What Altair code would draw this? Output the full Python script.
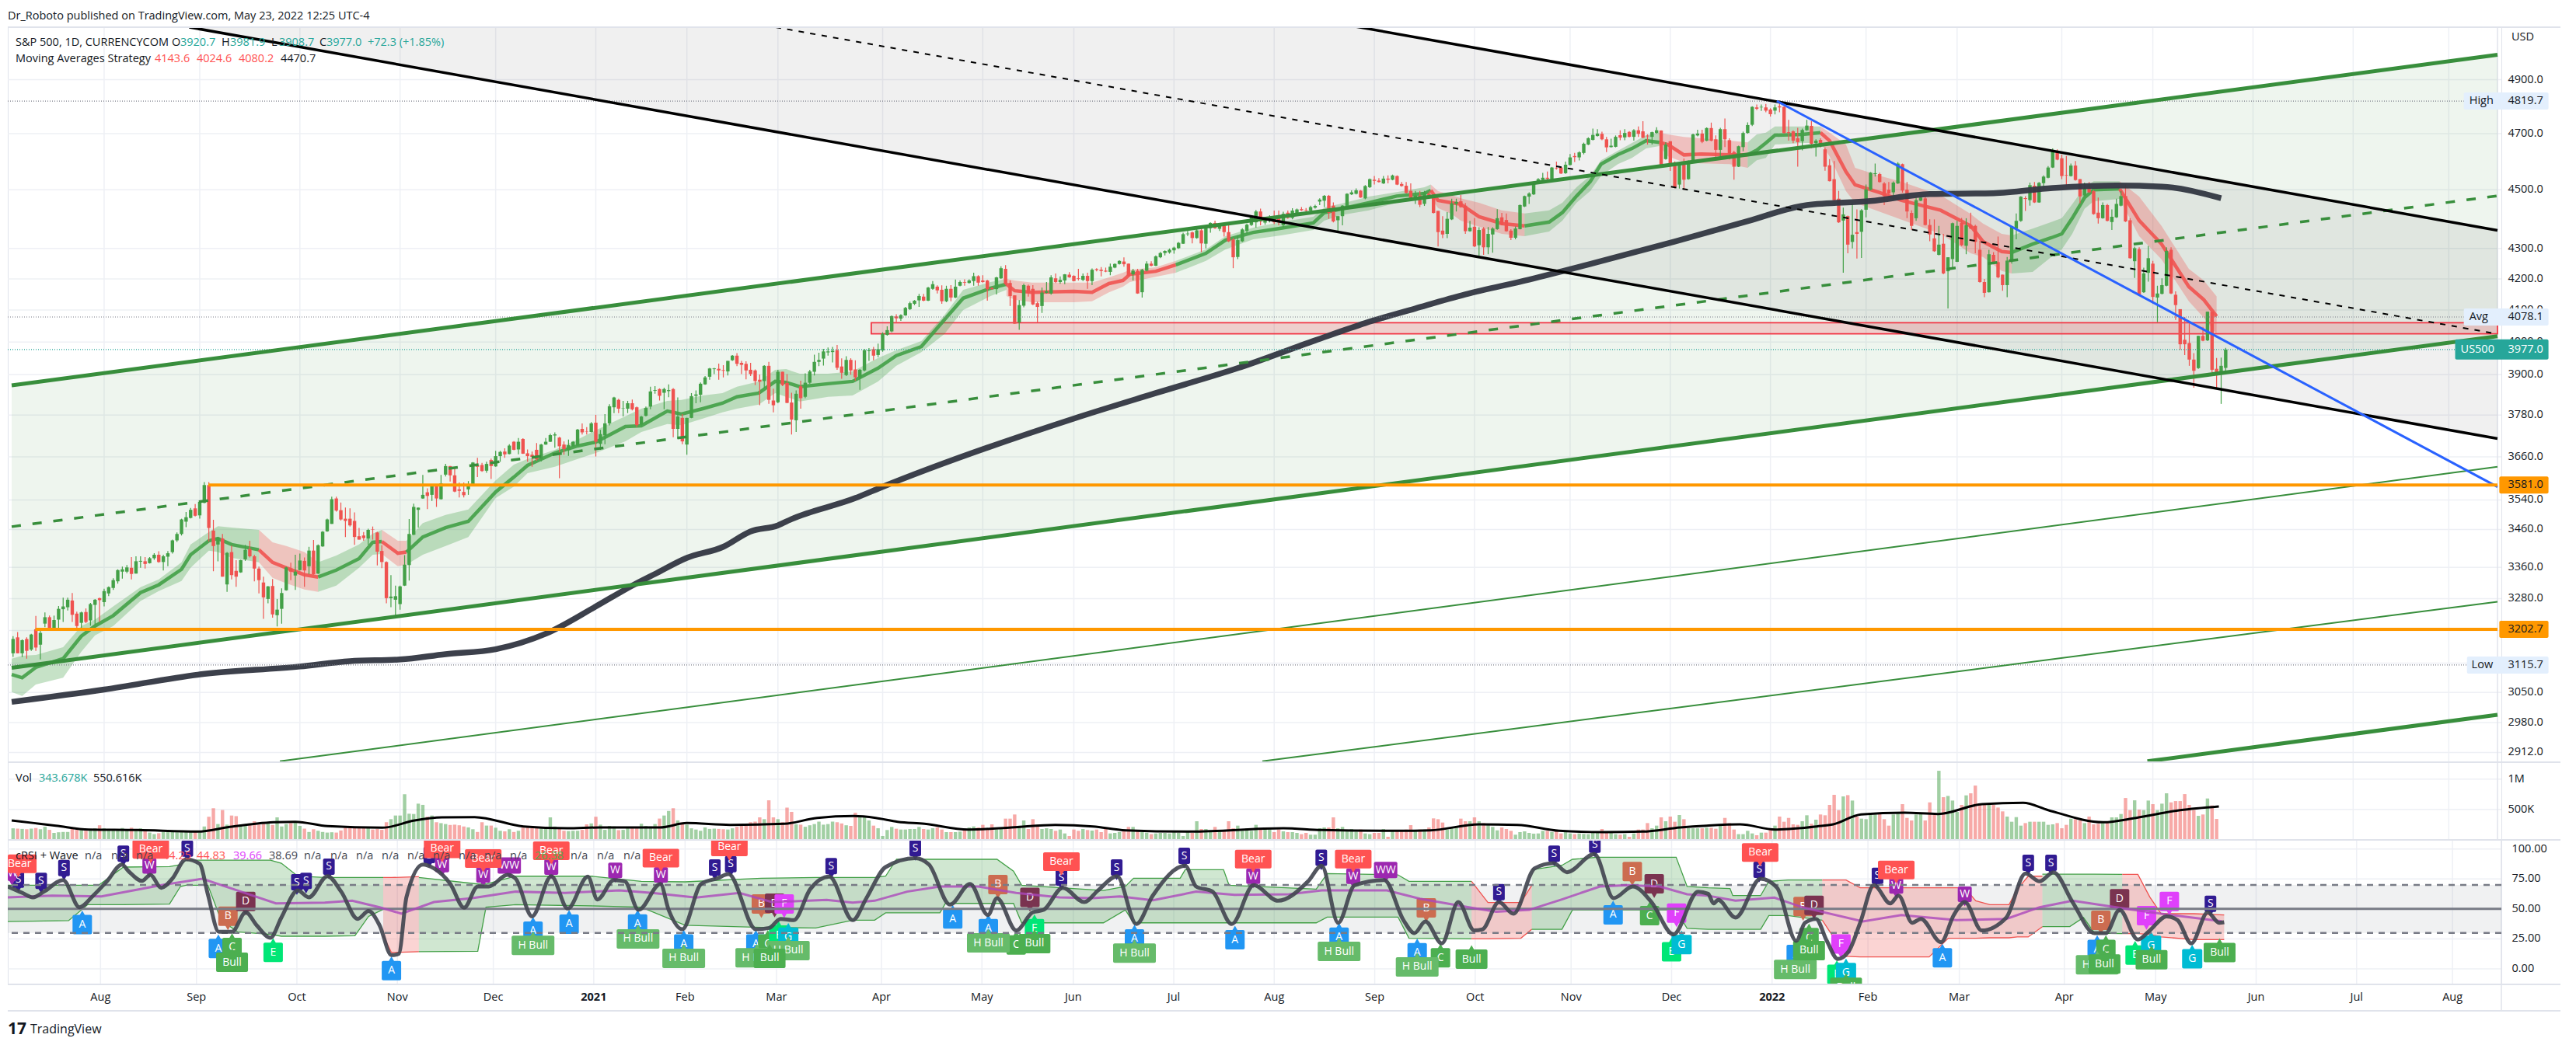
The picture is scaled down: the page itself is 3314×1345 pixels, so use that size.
import altair as alt
import pandas as pd

# ---------------------------------------------------------
# DATA: daily candles, one row per weekday (open, close, high, low)
# ---------------------------------------------------------
candles_2020a = [
    (3144,3179,3186,3135),(3183,3144,3196,3144),(3144,3176,3178,3135),(3179,3150,3183,3131),(3153,3190,3192,3150),
    (3203,3158,3236,3150),(3165,3194,3203,3129),(3217,3233,3245,3208),(3233,3204,3237,3204),(3204,3226,3237,3204),
    (3227,3254,3261,3202),(3253,3260,3282,3221),(3258,3277,3282,3250),(3275,3239,3294,3221),(3242,3211,3247,3202),
    (3219,3245,3247,3203),(3246,3221,3255,3218),(3225,3266,3269,3212),(3264,3277,3279,3215),(3281,3276,3282,3221),
    (3271,3299,3305,3260),(3293,3309,3311,3286),(3307,3327,3332,3302),(3324,3353,3355,3318),(3349,3355,3362,3331),
    (3349,3360,3366,3345),(3359,3343,3387,3329),(3344,3376,3389,3344),(3375,3377,3389,3359),(3376,3369,3387,3357),
    (3371,3384,3387,3370),(3384,3393,3397,3380),(3393,3374,3402,3372),(3374,3389,3393,3352),(3388,3397,3403,3363),
    (3400,3431,3433,3396),(3431,3448,3452,3427),(3448,3487,3489,3444),(3481,3493,3507,3466),(3491,3513,3518,3490),
    (3517,3497,3529,3495),(3498,3535,3535,3489),(3532,3581,3589,3531),(3581,3464,3589,3428),(3457,3416,3486,3350),
    (3420,3438,3440,3376),(3436,3336,3448,3336),(3316,3398,3400,3297),(3400,3340,3417,3329),(3351,3336,3379,3310),
    (3347,3379,3380,3346),(3381,3406,3419,3377),(3408,3389,3430,3386),(3389,3357,3393,3324),(3357,3327,3362,3293),
    (3321,3283,3336,3229),(3279,3311,3312,3268),(3312,3240,3330,3232),(3238,3252,3279,3210),(3254,3294,3306,3217),
    (3301,3360,3362,3300),(3357,3349,3372,3327),(3339,3349,3393,3302),(3353,3378,3396,3352),(3377,3352,3386,3310),
    (3363,3404,3414,3342),(3404,3342,3432,3341),(3344,3418,3420,3343),(3415,3454,3456,3414),(3455,3487,3489,3454),
    (3475,3542,3549,3475),(3544,3511,3549,3508),(3512,3487,3533,3484),(3489,3483,3519,3440),(3489,3471,3517,3468),
    (3483,3440,3506,3419),(3442,3433,3464,3433),(3444,3437,3453,3430),(3436,3459,3462,3419),(3460,3459,3468,3433),
    (3452,3401,3454,3365),(3403,3374,3418,3358),(3374,3281,3376,3268),(3281,3285,3340,3258),(3277,3286,3313,3237),
    (3266,3311,3313,3252),(3313,3367,3392,3312),(3366,3448,3488,3326),(3446,3521,3530,3445),(3513,3519,3519,3465),
    (3544,3554,3609,3543),(3561,3551,3572,3515),(3554,3580,3583,3537),(3578,3544,3581,3521),(3542,3586,3609,3541),
]
candles_2020b = [
    (3610,3634,3640,3605),(3634,3608,3634,3591),(3608,3563,3627,3561),(3569,3565,3588,3547),(3562,3553,3588,3547),
    (3569,3579,3592,3554),(3581,3644,3645,3580),(3637,3632,3657,3603),(3637,3620,3643,3618),(3621,3640,3646,3615),
    (3651,3634,3655,3598),(3633,3662,3677,3632),(3662,3674,3677,3646),(3675,3667,3684,3657),(3668,3692,3696,3667),
    (3703,3680,3705,3679),(3681,3703,3714,3667),(3711,3669,3713,3668),(3670,3662,3681,3646),(3666,3660,3675,3632),
    (3680,3653,3699,3649),(3653,3695,3697,3647),(3695,3703,3714,3694),(3703,3722,3726,3702),(3721,3724,3730,3686),
    (3715,3690,3717,3600),(3695,3682,3704,3666),(3679,3693,3709,3663),(3690,3703,3705,3689),(3692,3738,3740,3691),
    (3740,3730,3756,3724),(3733,3732,3745,3724),(3731,3756,3760,3730),(3758,3703,3781,3661),(3697,3725,3737,3680),
    (3721,3756,3783,3696),(3756,3806,3812,3750),(3803,3832,3834,3786),(3825,3799,3828,3786),(3799,3800,3822,3776),
    (3799,3815,3822,3786),(3815,3797,3826,3794),(3803,3751,3805,3745),(3752,3776,3778,3748),(3778,3801,3805,3776),
    (3805,3850,3864,3797),(3852,3854,3866,3843),(3857,3837,3859,3823),(3846,3857,3861,3797),(3851,3854,3871,3833),
    (3857,3740,3860,3716),(3740,3776,3832,3711),(3772,3704,3783,3696),(3695,3772,3772,3666),(3772,3836,3845,3771),
    (3837,3841,3853,3815),(3840,3873,3877,3818),(3871,3892,3896,3870),(3894,3919,3921,3885),(3917,3919,3921,3902),
    (3918,3913,3934,3885),(3914,3912,3929,3892),(3910,3942,3942,3898),(3944,3958,3960,3942),(3958,3933,3966,3926),
    (3936,3930,3942,3902),(3933,3913,3941,3886),(3915,3902,3936,3896),(3913,3881,3916,3869),(3885,3879,3901,3809),
    (3881,3927,3929,3861),(3927,3825,3939,3813),(3823,3809,3858,3788),(3818,3909,3915,3815),(3909,3869,3909,3866),
    (3875,3816,3902,3815),(3817,3767,3846,3724),(3765,3843,3853,3731),(3865,3830,3882,3799),(3834,3876,3904,3830),
    (3876,3910,3915,3873),(3909,3939,3961,3898),(3939,3945,3967,3926),(3949,3971,3979,3928),(3968,3971,3983,3958),
    (3969,3973,3985,3937),(3975,3921,3991,3915),(3925,3906,3950,3888),(3899,3945,3956,3896),(3945,3913,3950,3900),
    (3916,3892,3944,3882),(3892,3915,3917,3855),(3913,3975,3979,3910),(3972,3975,3981,3942),(3978,3958,3985,3944),
    (3960,3978,3995,3953),
]
candles_2021a = [
    (3974,4026,4030,3970),(4022,4037,4049,4020),(4033,4081,4083,4030),(4080,4074,4087,4062),(4073,4084,4087,4066),
    (4083,4107,4110,4082),(4103,4122,4127,4100),(4120,4130,4132,4116),(4131,4145,4152,4110),(4143,4130,4152,4128),
    (4130,4172,4174,4129),(4168,4183,4193,4165),(4175,4163,4179,4153),(4165,4128,4179,4120),(4128,4168,4178,4125),
    (4168,4140,4180,4128),(4140,4175,4198,4138),(4178,4190,4195,4176),(4190,4188,4199,4178),(4187,4195,4199,4185),
    (4193,4209,4220,4178),(4209,4188,4212,4178),(4195,4190,4212,4188),(4195,4167,4197,4130),(4170,4167,4174,4165),
    (4167,4205,4207,4150),(4202,4235,4241,4200),(4233,4183,4245,4180),(4187,4145,4195,4113),(4147,4057,4147,4057),
    (4061,4116,4132,4038),(4114,4180,4185,4109),(4178,4155,4182,4143),(4168,4118,4180,4116),(4122,4110,4127,4060),
    (4113,4156,4172,4091),(4155,4160,4190,4153),(4153,4205,4212,4149),(4202,4190,4218,4187),(4190,4197,4208,4184),
    (4195,4215,4216,4183),(4214,4205,4222,4204),(4210,4193,4212,4192),(4202,4200,4233,4195),(4197,4210,4218,4193),
    (4210,4193,4220,4168),(4193,4230,4234,4180),(4232,4229,4235,4225),(4230,4226,4239,4208),(4227,4224,4237,4222),
    (4223,4240,4250,4212),(4237,4249,4251,4235),(4249,4259,4261,4247),(4257,4248,4271,4240),(4250,4210,4250,4208),
    (4215,4227,4233,4195),(4227,4153,4233,4152),(4157,4230,4233,4140),(4227,4250,4258,4225),(4250,4243,4258,4241),
    (4243,4274,4277,4242),(4271,4285,4289,4268),(4285,4292,4294,4277),(4287,4296,4300,4283),(4294,4303,4306,4283),
    (4301,4319,4322,4299),(4316,4348,4353,4315),(4348,4350,4359,4342),(4354,4335,4357,4317),(4335,4361,4366,4333),
    (4361,4317,4368,4288),(4316,4372,4375,4300),(4368,4386,4388,4353),(4386,4368,4394,4366),(4366,4379,4384,4359),
    (4377,4355,4382,4340),(4355,4324,4384,4322),(4330,4271,4335,4235),(4272,4328,4344,4265),(4324,4364,4368,4322),
    (4359,4380,4384,4350),(4379,4407,4410,4376),(4388,4425,4430,4370),(4425,4391,4435,4378),(4387,4401,4405,4380),
    (4393,4406,4412,4388),(4406,4388,4428,4382),(4408,4388,4428,4378),(4378,4417,4424,4370),(4421,4403,4428,4400),
    (4403,4428,4436,4398),(4415,4432,4435,4412),(4433,4429,4440,4427),(4430,4428,4437,4425),(4428,4440,4445,4425),
    (4438,4444,4448,4435),
]
candles_2021b = [
    (4459,4466,4470,4447),(4462,4479,4482,4440),(4479,4420,4482,4400),(4445,4391,4456,4388),(4395,4409,4409,4355),
    (4409,4445,4447,4378),(4438,4486,4488,4436),(4484,4491,4498,4482),(4486,4498,4505,4484),(4497,4473,4499,4472),
    (4470,4513,4516,4467),(4509,4537,4539,4506),(4535,4531,4548,4518),(4532,4527,4541,4525),(4522,4539,4548,4520),
    (4539,4535,4550,4522),(4535,4550,4553,4533),(4548,4518,4550,4516),(4520,4513,4527,4511),(4514,4489,4527,4487),
    (4496,4463,4522,4461),(4466,4480,4496,4451),(4480,4448,4496,4440),(4451,4491,4496,4444),(4487,4471,4493,4469),
    (4476,4420,4478,4418),(4427,4355,4427,4307),(4360,4347,4409,4335),(4349,4400,4423,4335),(4398,4453,4469,4396),
    (4451,4458,4469,4425),(4460,4440,4482,4438),(4445,4358,4454,4349),(4358,4370,4393,4356),(4373,4307,4402,4305),
    (4311,4362,4371,4275),(4367,4304,4372,4279),(4304,4349,4372,4281),(4347,4367,4371,4286),(4365,4402,4433,4363),
    (4405,4380,4420,4378),(4396,4358,4418,4356),(4360,4336,4365,4328),(4336,4367,4374,4331),(4365,4447,4449,4364),
    (4442,4478,4480,4440),(4476,4487,4491,4451),(4484,4525,4529,4482),(4522,4537,4541,4520),(4534,4542,4559,4522),
    (4542,4538,4564,4527),(4537,4578,4580,4535),(4576,4574,4599,4571),(4578,4557,4580,4555),(4558,4588,4599,4556),
    (4587,4614,4626,4585),(4619,4615,4630,4598),(4614,4632,4636,4603),(4630,4663,4667,4625),(4660,4683,4686,4658),
    (4677,4695,4718,4675),(4691,4700,4716,4689),(4699,4679,4707,4676),(4679,4650,4688,4633),(4651,4656,4681,4649),
    (4652,4688,4693,4650),(4694,4685,4712,4676),(4686,4702,4716,4676),(4706,4688,4709,4686),(4688,4712,4716,4674),
    (4712,4699,4726,4688),(4708,4685,4745,4683),(4692,4690,4697,4660),(4688,4705,4707,4660),(4702,4712,4723,4700),
    (4711,4585,4712,4583),(4608,4660,4669,4606),(4672,4590,4672,4566),(4596,4509,4600,4505),(4518,4590,4596,4504),
    (4592,4535,4610,4500),(4537,4601,4603,4535),(4599,4697,4700,4597),(4693,4700,4714,4690),(4700,4670,4714,4665),
    (4674,4720,4722,4672),(4720,4674,4740,4672),(4679,4641,4693,4610),(4641,4716,4721,4617),(4716,4679,4755,4651),
    (4676,4628,4683,4607),(4633,4581,4638,4535),(4581,4654,4656,4580),(4651,4702,4707,4636),(4702,4731,4741,4700),
]
candles_2022 = [
    (4732,4798,4800,4727),(4796,4791,4807,4786),(4796,4798,4807,4783),(4796,4784,4809,4778),(4788,4771,4793,4762),
    (4784,4796,4807,4770),(4800,4796,4822,4778),(4798,4702,4800,4700),(4705,4702,4750,4674),(4708,4674,4712,4665),
    (4683,4669,4721,4581),(4672,4713,4718,4639),(4712,4729,4750,4710),(4728,4663,4745,4647),(4665,4674,4679,4617),
    (4677,4659,4683,4650),(4643,4581,4650,4567),(4586,4530,4608,4529),(4537,4464,4601,4462),(4469,4388,4496,4386),
    (4394,4415,4438,4220),(4409,4313,4411,4284),(4322,4346,4456,4300),(4355,4349,4432,4267),(4356,4429,4433,4269),
    (4431,4501,4518,4405),(4500,4560,4562,4498),(4555,4558,4592,4546),(4555,4527,4560,4525),(4522,4478,4527,4447),
    (4500,4487,4527,4476),(4491,4525,4529,4464),(4522,4592,4597,4520),(4590,4497,4592,4490),(4500,4425,4527,4402),
    (4420,4376,4429,4362),(4402,4464,4473,4393),(4462,4473,4478,4460),(4470,4379,4478,4377),(4379,4347,4398,4324),
    (4334,4291,4398,4289),(4279,4313,4376,4277),(4316,4218,4349,4215),(4225,4271,4271,4105),(4265,4385,4387,4232),
    (4256,4376,4393,4255),(4386,4311,4403,4308),(4309,4378,4402,4281),(4376,4367,4421,4365),(4376,4322,4380,4284),
    (4296,4190,4326,4188),(4190,4155,4200,4141),(4157,4281,4296,4156),(4279,4255,4288,4253),(4255,4205,4340,4202),
    (4214,4180,4214,4162),(4180,4260,4272,4141),(4258,4374,4376,4250),(4367,4393,4418,4331),(4393,4476,4478,4390),
    (4471,4468,4478,4427),(4464,4516,4525,4445),(4514,4456,4527,4454),(4456,4524,4527,4455),(4523,4546,4550,4504),
    (4542,4578,4583,4540),(4578,4638,4646,4576),(4635,4606,4643,4604),(4611,4548,4624,4537),(4552,4550,4619,4511),
    (4548,4585,4592,4546),(4585,4534,4601,4532),(4537,4477,4537,4453),(4480,4505,4525,4478),(4504,4491,4527,4489),
    (4495,4416,4499,4414),(4421,4402,4473,4384),(4402,4447,4456,4400),(4447,4393,4451,4391),(4389,4407,4432,4362),
    (4405,4451,4469,4403),(4445,4478,4496,4443),(4478,4391,4518,4389),(4395,4268,4402,4266),(4258,4301,4306,4203),
    (4298,4147,4304,4145),(4157,4218,4237,4155),(4220,4268,4309,4191),(4250,4142,4259,4120),(4140,4153,4178,4062),
    (4152,4180,4202,4150),(4178,4292,4304,4176),(4296,4153,4304,4151),(4149,4116,4160,4069),(4103,3993,4103,3976),
    (4007,3993,4078,3960),(3997,3946,4058,3927),(3946,3912,3966,3861),(3920,4019,4019,3918),(4019,4004,4047,4002),
    (4005,4095,4095,4003),(4095,3915,4095,3907),(3918,3902,3951,3861),(3902,3927,3952,3813),(3920.7,3977,3981.9,3908.7),
]

volume_a = [
    190,185,180,175,185,195,175,215,165,115,125,130,130,180,165,175,150,170,190,240,
    190,180,175,165,195,175,200,170,190,160,120,95,110,130,130,135,125,140,135,125,150,
    120,220,380,520,260,490,250,400,390,255,240,270,305,250,265,290,245,370,220,260,275,300,
    230,185,130,175,150,130,120,125,120,155,210,215,210,210,200,215,170,180,165,290,340,400,
    400,750,430,425,595,575,380,400,290,275,260,245,250,240,220,205,175,130,290,235,235,
    200,150,140,175,130,150,200,205,200,205,200,200,370,220,190,150,145,150,150,165,255,270,
    380,250,165,230,220,160,165,195,200,190,265,230,220,260,350,400,475,520,320,285,
    250,190,170,150,205,180,185,180,175,170,190,215,240,260,290,
    300,370,340,650,370,340,290,530,460,255,250,215,240,260,300,250,260,300,290,270,240,230,
]
volume_b = [
    446,391,383,319,234,191,64,162,213,183,170,170,179,179,213,179,170,191,204,170,128,128,128,136,179,204,221,204,247,191,
    255,170,191,349,349,417,234,319,179,340,247,179,191,179,149,170,106,64,170,149,179,162,153,170,128,191,106,115,128,170,
    213,213,162,128,119,94,106,115,115,106,136,119,64,128,115,306,179,179,128,213,149,157,306,191,234,149,191,149,247,179,
    204,170,128,170,140,128,128,115,94,115,85,85,191,204,204,370,191,213,149,179,136,170,106,94,115,115,179,51,149,162,
    162,170,242,162,170,170,204,353,340,285,170,191,200,349,306,306,370,306,276,247,213,157,204,179,149,85,128,140,115,102,
    106,149,149,128,145,106,128,106,94,106,98,94,128,115,179,128,115,94,85,94,51,106,170,170,276,191,234,370,306,383,
    298,408,340,191,191,191,191,
]
volume_c = [
    200,200,183,234,361,276,170,94,94,149,106,77,119,119,179,234,383,298,361,255,247,306,404,264,332,417,404,574,740,489,
    714,735,646,383,349,340,417,417,425,340,234,417,446,587,361,319,417,446,319,616,417,1135,701,722,646,459,574,731,765,892,
    574,574,574,574,531,468,383,298,374,234,276,298,298,298,298,247,255,276,191,247,349,340,319,276,383,255,264,276,276,370,
    370,425,688,489,650,497,489,646,587,489,595,765,616,637,637,752,574,489,395,417,680,565,344,
]
volume_ma = [
    (-0.3,319),(4.6,276),(9.4,234),(16.6,170),(27.3,162),(40.5,136),(47.6,213),(57.2,289),(62,298),(69.1,225),(81.1,200),
    (88.2,319),(94.2,370),(101.4,374),(112.1,221),(121.7,191),(128.8,204),(142,204),(148,276),(157.5,247),(169.4,264),
    (176.6,361),(184.7,391),(189.5,361),(194.3,298),(200.2,264),(209.8,170),(219.3,204),(228.9,247),(237.2,221),(244.4,157),
    (258.7,136),(279,191),(287.4,162),(304.1,149),(311.3,157),(322,255),(330.4,247),(339.6,149),(349.5,128),(357.9,136),
    (366.2,204),(372,234),(379.3,255),(387.1,170),(396.2,221),(399.8,255),(405.9,417),(415.5,446),(422.8,425),(432.5,587),
    (441.5,608),(447,489),(459.1,289),(466.3,361),(476,489),(484.5,550),
]

ma200 = [
    (-0.3,3028),(20,3057),(41,3093),(63,3112),(74,3125),(85,3129),(95,3142),(106,3154),(117,3192),(128,3260),(136,3313),
    (141,3343),(148,3385),(156,3414),(162,3455),(168,3471),(171,3488),(185,3545),(190,3571),(233,3770),(251,3845),(269,3920),
    (286,4005),(297,4059),(308,4105),(319,4150),(333,4198),(347,4251),(365,4323),(381,4392),(394,4447),(408,4461),(421,4485),
    (435,4488),(448,4506),(462,4515),(472,4511),(485,4470.7),
]

# moving average ribbon: bar, upper, middle, lower
ribbon_green_1 = [
    (-0.3,3131,3093,3051),(2,3138,3085,3042),(5,3140,3110,3069),(11,3159,3131,3085),(15,3211,3186,3148),(18,3227,3211,3188),
    (22,3260,3237,3211),(28,3309,3295,3274),(32,3329,3315,3299),(37,3373,3355,3325),(39,3420,3393,3359),(43,3453,3430,3404),
    (45,3469,3436,3400),(48,3465,3420,3385),(54,3459,3406,3373),
]
ribbon_red_1 = [(54,3459,3406,3373),(57,3426,3373,3333),(60,3416,3359,3319),(64,3400,3341,3303),(67,3373,3335,3297)]
ribbon_green_2 = [(67,3373,3335,3297),(71,3391,3353,3313),(76,3420,3383,3359),(79,3449,3426,3393),(81,3459,3428,3395)]
ribbon_red_2 = [(81,3459,3428,3395),(84.5,3430,3397,3363),(86.4,3430,3400,3367)]
ribbon_green_3 = [
    (86.4,3430,3400,3367),(90,3477,3440,3393),(95,3499,3465,3416),(100,3514,3482,3440),(106,3594,3562,3545),(110,3638,3603,3577),
    (113,3654,3636,3614),(119,3680,3671,3632),(124,3709,3691,3654),(128,3736,3702,3671),(134.5,3777,3747,3704),(138,3799,3749,3731),
    (143.7,3822,3792,3754),(146.8,3825,3783,3751),(151.5,3838,3799,3770),(155.8,3845,3815,3788),(159,3864,3834,3799),
    (163.8,3880,3845,3811),(167.4,3915,3880,3845),(169.8,3917,3877,3834),(172.8,3903,3864,3820),(179,3903,3873,3834),
    (184.4,3910,3880,3838),(190,3951,3920,3880),(194,3975,3958,3927),(199.5,4003,3986,3969),(204.6,4085,4070,4025),
    (208.7,4165,4138,4100),(214.7,4190,4170,4145),(218.2,4200,4183,4165),
]
ribbon_red_3 = [
    (218.2,4200,4183,4145),(220,4195,4162,4133),(223.8,4188,4157,4125),(233,4188,4160,4125),(237,4188,4157,4128),
    (240.7,4205,4185,4157),(243.8,4220,4195,4175),(245.3,4230,4215,4190),(251,4238,4225,4207),(255.4,4259,4246,4220),
]
ribbon_green_4 = [
    (255.4,4259,4246,4220),(262,4297,4284,4259),(266.3,4341,4328,4297),(272.4,4370,4354,4331),(278.5,4389,4368,4344),
    (285.6,4407,4386,4362),(288,4439,4421,4394),(291.8,4452,4434,4413),(297.8,4476,4455,4429),(303.9,4492,4478,4455),
    (310,4509,4487,4468),(311.4,4518,4498,4473),
]
ribbon_red_4 = [
    (311.4,4518,4498,4473),(313,4495,4463,4437),(316,4481,4455,4416),(318,4470,4450,4394),(322,4455,4407,4373),
    (327,4429,4384,4349),(332,4418,4376,4341),
]
ribbon_green_5 = [
    (332,4418,4376,4341),(337.4,4429,4389,4357),(340.3,4455,4421,4394),(343.4,4509,4478,4455),(346.4,4549,4528,4495),
    (348.8,4604,4590,4549),(352.5,4638,4624,4590),(355.6,4666,4646,4612),(358.7,4694,4674,4646),(361.6,4703,4668,4655),
]
ribbon_red_5 = [(361.6,4703,4668,4655),(363.5,4697,4660,4618),(367,4688,4623,4596),(370.8,4683,4626,4593),(377,4674,4623,4590),(381,4668,4623,4577)]
ribbon_green_6 = [(381,4668,4623,4577),(383,4697,4640,4604),(385,4703,4666,4612),(387,4726,4694,4660),(393,4726,4697,4666),(397,4726,4703,4666)]
ribbon_red_6 = [
    (397,4726,4703,4666),(399,4703,4674,4618),(402.6,4660,4563,4495),(404.6,4577,4517,4455),(410,4549,4490,4424),
    (414.8,4528,4463,4397),(423.4,4481,4429,4349),(430,4416,4376,4284),(432.7,4384,4323,4272),(436.8,4349,4290,4226),
    (439,4344,4287,4218),
]
ribbon_green_7 = [
    (439,4344,4287,4218),(443.6,4367,4315,4223),(447.7,4389,4336,4272),(450,4402,4349,4297),(452.3,4450,4402,4349),
    (455,4509,4473,4434),(457,4530,4500,4460),(462.7,4530,4503,4468),
]
ribbon_red_7 = [
    (462.7,4530,4503,4468),(467,4476,4394,4341),(471.9,4376,4315,4264),(477.9,4233,4175,4128),(481.2,4195,4133,4076),
    (484,4143.6,4080.2,4024.6),
]

rsi_line = [
    (-0.3,68.7),(2.9,63.3),(5.2,59.6),(7.6,64.4),(11.8,74.1),(15.4,51.4),(18.4,61.1),(21.4,73),(24.7,87),(26.1,81.6),(29.1,73.4),
    (30.9,78.4),(33.3,67.6),(35.7,75.2),(38.7,91.4),(41.7,87.7),(43.5,62.2),(45.9,30.9),(48.8,30.9),(51.8,47.1),(54.2,36.3),
    (57.2,25.9),(59.6,42.8),(63.2,65.4),(65.6,59.6),(69.7,77.3),(72.7,64.4),(76.3,41.7),(78.7,48.2),(81.1,36.3),(83.7,11.4),
    (85.3,12.5),(87,60),(90.6,87),(93,83.8),(96.6,70.8),(99.6,51),(102.6,68.7),(105,68.7),(109.1,78.4),(110.9,75.2),(114.5,43.8),
    (118.7,77.3),(122.3,50.3),(126.7,76.9),(128.8,57.9),(132.4,74.1),(134.8,73),(137.8,49.2),(142.6,70.8),(144.4,49.2),(147.4,33),
    (151.5,70.8),(155.1,75.6),(157.5,79),(163.5,33),(166.4,34.1),(168.9,41.7),(171.8,40.6),(175.4,66.5),(179.6,76.9),(184.7,40.6),
    (187.7,59),(191.9,84.9),(198.4,92.4),(201.4,87),(206,53.6),(210.4,70.8),(214.3,44.9),(216.3,59),(220.5,32),(224.1,47.1),
    (226.5,49.2),(230.7,67.6),(235.4,55.7),(238.4,65.4),(242.6,77.3),(246.8,37.4),(250.4,61.1),(257.5,86),(259.9,68.7),(263.5,64.4),
    (267.7,37.4),(272.5,69.8),(277.8,56.8),(284.4,73),(287.4,86),(291,38.4),(294.6,69.8),(301.1,74.1),(305.3,40.6),(307.7,29.8),
    (310.1,39.5),(313.7,21.2),(317.3,55.7),(320.8,32),(322.6,33),(326.2,55.7),(329.4,46),(334,83.8),(338.2,88.1),(341.1,80.6),
    (347.1,95.7),(351.3,59),(355.5,68.7),(359.6,55.7),(364.4,28.7),(369.8,64.4),(372,62.6),(373.2,54.6),(374.2,57.5),(378,42.8),
    (383.5,75.2),(387.1,67.6),(391.3,23.3),(393.2,38.4),(395.6,41.7),(398,23.3),(400.4,8.2),(402.8,14.7),(405.3,38.4),(408.3,69.8),
    (411.9,54.6),(413.7,61.1),(416.7,38.4),(418.6,41.7),(423,22.2),(425.8,44.9),(428.2,55.7),(431.9,32),(437.3,42.8),(441.5,79.5),
    (444.6,73),(447.6,80.6),(451.8,55.7),(456.6,29.8),(459.1,29.8),(462.1,49.2),(466.1,24.4),(468.7,32),(472.4,43.8),(474.8,40.6),
    (477.8,21.2),(481.4,47.1),(483.9,38.4),(485,38.9),
]
rsi_average = [
    (-0.3,59.6),(9.4,61.1),(20.2,60.5),(33.3,69.8),(42.3,75.2),(50,65.4),(58.4,54.6),(69.1,55.3),(75.1,56.8),(81.1,51.4),(85.9,46),
    (93,55.7),(101.4,59),(110.9,64.4),(121.7,63.3),(133.6,65.4),(140.8,63.3),(150.4,59.4),(159.9,63.3),(167,55.7),(179,57.5),
    (184.7,55.3),(189.5,56.8),(196.6,64.4),(203.8,68.7),(212.2,68.7),(220.5,63.3),(230,59.6),(237.2,59),(243.2,60.5),(250.4,57.2),
    (259.9,64.4),(268.3,61.8),(280.2,62.2),(287.4,65.4),(301.7,65.4),(308.9,58.5),(319.6,51.4),(325.6,47.7),(332.8,49.2),(340,57.9),
    (348.3,68.7),(354.3,69.8),(361.4,68.7),(367.4,62.2),(372,61),(378,56.8),(386.5,59.4),(392.6,51.4),(405.9,39.5),(414.3,44.9),
    (426.4,40.6),(437.3,41.7),(444.6,51.4),(451.8,56.8),(463.9,49.9),(472.4,45.4),(484.5,39.7),
]
# wave band: bar, upper, lower
wave_green_1 = [
    (-0.3,69.8,39.5),(13,69.8,40.2),(17.2,69.8,53.6),(19.6,69.8,53.6),(25,84.9,53.6),(35.1,85.3,54),(37.5,87,68.7),(38.7,90.7,69.8),
    (43.5,90.7,69.8),(46.4,90.7,40.6),(50,90.7,30.9),(57.2,90.7,28.7),(59.6,88.1,27.2),(63.2,77.3,27.2),(69.1,76.2,27.2),
    (75.7,76.2,27.6),(78.7,76.2,43.8),(81.9,76.2,49.7),
]
wave_red_1 = [(81.9,76.2,27.6),(83.7,76.2,13.6),(89.7,76.9,14.3)]
wave_green_2 = [
    (89.7,76.2,14.3),(102.6,70.8,14.7),(104.4,70.8,51.4),(110.9,77.3,53.6),(127.6,77.3,52.5),(138.4,73,51.4),(148,72.6,36.3),
    (164.7,75.6,34.6),(176.6,76.2,34.1),(184.7,76.2,40.6),(189.5,76.2,40.6),(191.9,77.3,46.7),(194.3,91.4,46.7),(203.8,91.4,46.7),
    (205,91.4,54.6),(216.3,91.4,54.6),(219.9,81.6,54.6),(221.7,69.8,38.4),(239.6,65.4,38.4),(244.4,68.7,49.2),(246.2,75.6,38.4),
    (256.4,75.6,38.4),(257.5,82.7,38.4),(265.9,82.7,38.4),(267.1,69.8,38.4),(286.2,66.5,38.4),(288.6,79.5,43.2),(304.1,78.4,43.2),
    (306.5,73,25.5),(320.2,73,25),
]
wave_red_2 = [(320.2,73,25),(323.8,55.3,25),(331,55.3,25.5),(333.4,69.8,33)]
wave_green_3 = [
    (333.4,82.7,33),(340,86.4,33),(342.3,91.4,49.2),(347.7,93.1,49.2),(365,93.1,49.2),(367.4,68.7,33.7),(372,67.6,33),
    (376.8,67,33),(377.4,61.1,33),(383.5,61.1,33),(385.3,73,44.5),(389.5,74.1,44.5),(397,74.1,40.6),
]
wave_red_3 = [
    (397,74.1,40.6),(402.2,74.1,10.4),(405.3,67.6,9.9),(420.4,67.6,9.9),(424.6,67.6,25.5),(428.2,67.6,25.5),(430.6,56.8,25.5),
    (433.7,53.6,25.9),(437.9,53.6,25.9),(439.7,66.5,26.6),(442.1,77.3,26.6),(445.2,77.3,35.2),
]
wave_green_4 = [(445.2,79,35.2),(451.2,79,35.2),(454.2,79,42.8),(456.6,79,29.8),(462.7,78.8,29.4)]
wave_red_4 = [(462.7,78.8,29.4),(466.1,78.8,29.4),(468.7,60,28.7),(471.2,46,26.6),(478.4,46,24.4),(485,44.9,24.4)]

# signal tags of the oscillator: bar, value of the tip
sig_s = [
    (2,64.4),(7,63.3),(12,74.1),(25,86),(39,90.3),(63,62.2),(65,63.3),(70,75.2),(92,84.9),(154.5,74.5),(158,77.3),(180,75.6),
    (198.4,90.7),(230.4,66.1),(242.5,74.5),(257.3,84.2),(287.3,82.7),(326.2,54),(338.3,86),(347.2,93.5),(383.2,72.6),(409.1,67.6),
    (442.1,78.4),(447.1,78.4),(482,44.3),
]
sig_w = [
    (0,70),(30.7,76.2),(94.8,77.3),(103.8,68.7),(118.7,75.2),(132.7,72.4),(142.7,68.7),(272.4,67.6),(294.3,67.6),(413.2,59.4),(428.2,52.5),
]
sig_ww = [(109.5,76.2),(301.4,72.4)]
sig_bear = [
    (2,76.7),(31,88.6),(94.8,89.2),(103.8,81),(118.7,87.5),(142.7,81.4),(157.7,90.7),(230.4,78.4),(272.4,80.6),(294.3,80.6),(383.4,86),(413.2,71.5),
]
sig_b = [(47.9,32.6),(164.7,42.8),(216.5,59),(310.3,39.5),(355.4,69.8),(392.8,40.6),(458,29.2)]
sig_d = [(51.8,44.9),(167.6,43.4),(223.5,48.2),(360.2,59.6),(395.2,41.7),(462.1,47.1)]
sig_f = [(169.7,42.8),(365.1,35.2),(401.1,9.3),(468,33),(473,44.9)]
sig_a = [
    (16,48.2),(45.8,28.3),(83.7,9.9),(114.7,42.8),(122.6,48.6),(137.6,48.8),(147.7,32),(163.5,32),(206.6,52.9),(214.4,44.9),(246.4,36.3),
    (268.4,35.6),(291.2,37.8),(308.3,24.8),(351.2,56.4),(391.3,23.3),(423.3,20.5),(457.2,27.6),
]
sig_c = [(48.8,29.2),(166.1,32),(220.5,31.3),(313.4,20.5),(359.2,55.7),(394.1,37.4),(459.1,27.6)]
sig_e = [(57.8,25.1),(168.5,39.5),(224.5,44.9),(364,25.5),(400.2,6.7),(465.5,22.9)]
sig_g = [(170.6,37.8),(366.2,31.5),(402.2,8.2),(469,30.9),(478,19.7)]
sig_bull = [(48.8,16.8),(166.5,20.1),(224.5,32.4),(320.2,19.4),(394.1,26.6),(402.2,-4.1),(458.8,15.3),(469.1,19),(484,25)]
sig_hbull = [
    (114.7,30.9),(137.7,36.3),(147.7,20.1),(163.7,20.5),(170.6,26.6),(214.4,33),(246.4,24.4),(291.2,25.9),(308.3,13),(391.1,10.8),(457.2,14.7),
]

month_ticks = [20,41,63,85,106,128,148,168,191,213,233,255,277,299,321,342,364,386,407,427,450,470,492,514,535]
month_names = ["Aug","Sep","Oct","Nov","Dec","2021","Feb","Mar","Apr","May","Jun","Jul","Aug","Sep","Oct","Nov","Dec","2022","Feb","Mar","Apr","May","Jun","Jul","Aug"]
year_names = ["2021", "2022"]
price_ticks = [4900,4700,4500,4300,4200,4100,4000,3900,3780,3660,3540,3460,3360,3280,3200,3120,3050,2980,2912]
volume_ticks = [500, 1000]
volume_tick_names = ["500K", "1M"]
rsi_ticks = [0, 25, 50, 75, 100]

# ---------------------------------------------------------
# SCALES
# ---------------------------------------------------------
FONT = "Open Sans"
GRID = "#eef0f5"
BORDER = "#e0e3eb"
TEXT = "#131722"
UP = "#26a69a"
DOWN = "#ef5350"
W = 3208
BAR_PX = 5.875
X_END = 545.7
LABEL_BAR = 548.0

x_scale = alt.Scale(domain=[-0.31, X_END], nice=False, zero=False)
price_scale = alt.Scale(type="log", domain=[2890, 5103], nice=False)
vol_scale = alt.Scale(domain=[0, 1276], nice=False)
rsi_scale = alt.Scale(domain=[-13, 107.6], nice=False)


def x_enc(field="bar"):
    return alt.X(f"{field}:Q", scale=x_scale, axis=None)


def y_price(field="price"):
    return alt.Y(f"{field}:Q", scale=price_scale, axis=None)


def y_vol(field="vol"):
    return alt.Y(f"{field}:Q", scale=vol_scale, axis=None)


def y_rsi(field="rsi"):
    return alt.Y(f"{field}:Q", scale=rsi_scale, axis=None)


def pane_grid(values, names, y_enc, field):
    # grid lines and right hand tick labels of one pane, plus the month lines
    rows = pd.DataFrame({field: values, "name": names})
    rows["bar"] = LABEL_BAR
    months = alt.Chart(pd.DataFrame({"bar": month_ticks})).mark_rule(color=GRID, strokeWidth=1.5).encode(x=x_enc())
    lines = alt.Chart(rows).mark_rule(color=GRID, strokeWidth=1.5).encode(y=y_enc(field))
    edge = alt.Chart(pd.DataFrame({"bar": [X_END]})).mark_rule(color=BORDER, strokeWidth=1.5).encode(x=x_enc())
    labels = alt.Chart(rows).mark_text(align="left", baseline="middle", font=FONT, fontSize=14.5, color=TEXT).encode(
        x=x_enc(), y=y_enc(field), text="name:N")
    return months, lines, edge, labels


def overlay_text(rows, size=14.5):
    # rows: text, colour, x, y in pane pixels
    df = pd.DataFrame(rows, columns=["text", "col", "px", "py"])
    return alt.Chart(df).mark_text(align="left", baseline="middle", font=FONT, fontSize=size).encode(
        x=alt.X("px:Q", scale=None, axis=None),
        y=alt.Y("py:Q", scale=None, axis=None),
        text="text:N",
        color=alt.Color("col:N", scale=None),
    )


def price_line(bars, prices, color, width, dash=None):
    df = pd.DataFrame({"bar": bars, "price": prices})
    kw = {"strokeDash": dash} if dash else {}
    return alt.Chart(df).mark_line(color=color, strokeWidth=width, clip=True, **kw).encode(x=x_enc(), y=y_price())


def channel_fill(bars, upper, lower, color, opacity):
    df = pd.DataFrame({"bar": bars, "up": upper, "low": lower})
    return alt.Chart(df).mark_area(color=color, opacity=opacity, clip=True).encode(
        x=x_enc(), y=y_price("up"), y2="low:Q")


# ---------------------------------------------------------
# PRICE PANE
# ---------------------------------------------------------
candle_rows = candles_2020a + candles_2020b + candles_2021a + candles_2021b + candles_2022
candles = pd.DataFrame(candle_rows, columns=["open", "close", "high", "low"])
candles["bar"] = range(len(candles))
candles["dir"] = ["up" if c >= o else "down" for o, c in zip(candles["open"], candles["close"])]
dir_color = alt.Color("dir:N", scale=alt.Scale(domain=["up", "down"], range=[UP, DOWN]), legend=None)

price_months, price_lines, price_edge, price_labels = pane_grid(
    price_ticks, [f"{p:.1f}" for p in price_ticks], y_price, "price")

ribbon_parts = [
    ("g", ribbon_green_1), ("r", ribbon_red_1), ("g", ribbon_green_2), ("r", ribbon_red_2), ("g", ribbon_green_3),
    ("r", ribbon_red_3), ("g", ribbon_green_4), ("r", ribbon_red_4), ("g", ribbon_green_5), ("r", ribbon_red_5),
    ("g", ribbon_green_6), ("r", ribbon_red_6), ("g", ribbon_green_7), ("r", ribbon_red_7),
]
ribbon = pd.DataFrame(
    [(n, tone) + row for n, (tone, rows) in enumerate(ribbon_parts) for row in rows],
    columns=["part", "tone", "bar", "up", "mid", "low"],
)
tone_color = alt.Color("tone:N", scale=alt.Scale(domain=["g", "r"], range=["#43a047", "#ef5350"]), legend=None)
ribbon_band = alt.Chart(ribbon).mark_area(opacity=0.3, clip=True).encode(
    x=x_enc(), y=y_price("up"), y2="low:Q", color=tone_color, detail="part:N")
ribbon_mid = alt.Chart(ribbon).mark_line(strokeWidth=4.5, opacity=0.9, clip=True).encode(
    x=x_enc(), y=y_price("mid"), color=tone_color, detail="part:N")

wicks = alt.Chart(candles).mark_rule(strokeWidth=1.2, clip=True).encode(x=x_enc(), y=y_price("low"), y2="high:Q", color=dir_color)
bodies = alt.Chart(candles).mark_bar(width=4.4, clip=True).encode(x=x_enc(), y=y_price("open"), y2="close:Q", color=dir_color)

ma_df = pd.DataFrame(ma200, columns=["bar", "price"])
ma_line = alt.Chart(ma_df).mark_line(color="#363a45", strokeWidth=7.5, opacity=0.97, clip=True, interpolate="monotone").encode(
    x=x_enc(), y=y_price())

zone = pd.DataFrame({"bar": [188.5], "bar2": [X_END], "top": [4060], "bottom": [4025.7]})
zone_rect = alt.Chart(zone).mark_rect(color="#f23645", opacity=0.2).encode(
    x=x_enc(), x2="bar2:Q", y=y_price("top"), y2="bottom:Q")
zone_edge = alt.Chart(zone).mark_rect(fill="transparent", stroke="#f23645", strokeWidth=1.8).encode(
    x=x_enc(), x2="bar2:Q", y=y_price("top"), y2="bottom:Q")


def dotted(price, color):
    return alt.Chart(pd.DataFrame({"price": [price]})).mark_rule(
        color=color, strokeWidth=1.2, strokeDash=[1, 2]).encode(y=y_price())


tags = pd.DataFrame([
    ("High", "4819.7", 4819.7, 538.3, 556.9, "#e3effd", TEXT, 539.5, 22),
    ("Avg", "4078.1", 4078.1, 538.3, 556.9, "#e3effd", TEXT, 539.5, 22),
    ("Low", "3115.7", 3115.7, 539.0, 556.9, "#e3effd", TEXT, 540.0, 22),
    ("", "3581.0", 3581.0, 546.1, 556.9, "#ff9800", TEXT, 547, 22),
    ("", "3202.7", 3202.7, 546.1, 556.9, "#ff9800", TEXT, 547, 22),
    ("US500", "3977.0", 3977.0, 536.4, 556.9, "#26a69a", "#ffffff", 537.6, 26),
], columns=["name", "value", "price", "bar", "bar2", "bg", "fg", "name_bar", "h"])
tags["value_bar"] = LABEL_BAR
tag_layers = []
for h in [22, 26]:
    part = tags[tags["h"] == h]
    tag_layers.append(alt.Chart(part).mark_rect(height=h, cornerRadius=2).encode(
        x=x_enc(), x2="bar2:Q", y=y_price(), color=alt.Color("bg:N", scale=None)))
tag_name = alt.Chart(tags).mark_text(align="left", font=FONT, fontSize=14.5).encode(
    x=x_enc("name_bar"), y=y_price(), text="name:N", color=alt.Color("fg:N", scale=None))
tag_value = alt.Chart(tags).mark_text(align="left", font=FONT, fontSize=14.5).encode(
    x=x_enc("value_bar"), y=y_price(), text="value:N", color=alt.Color("fg:N", scale=None))

price_legend = overlay_text([
    ("S&P 500, 1D, CURRENCYCOM", TEXT, 10, 20), ("O", TEXT, 211, 20), ("3920.7", UP, 222, 20), ("H", TEXT, 275, 20),
    ("3981.9", UP, 286, 20), ("L", TEXT, 339, 20), ("3908.7", UP, 349, 20), ("C", TEXT, 401, 20), ("3977.0", UP, 410, 20),
    ("+72.3 (+1.85%)", UP, 463, 20), ("Moving Averages Strategy", TEXT, 10, 41), ("4143.6", "#ff5252", 189, 41),
    ("4024.6", "#ff5252", 243, 41), ("4080.2", "#ff5252", 297, 41), ("4470.7", TEXT, 351, 41), ("USD", TEXT, 3221, 13),
])
top_edge = alt.Chart(pd.DataFrame({"a": [0]})).mark_rule(color=BORDER, strokeWidth=2).encode(
    x=alt.value(0), x2=alt.value(3284), y=alt.value(0))

price_pane = alt.layer(
    price_months, price_lines, price_edge,
    channel_fill([-0.31, X_END], [3868, 4995], [3109, 4018], "#388e3c", 0.085),
    channel_fill([38.7, X_END], [5998, 4361], [5103, 3712], "#000000", 0.06),
    zone_rect, zone_edge,
    ribbon_band, ribbon_mid,
    wicks, bodies,
    ma_line,
    dotted(4819.7, "#787b86"), dotted(4078.1, "#787b86"), dotted(3977.0, UP), dotted(3115.7, "#787b86"),
    price_line([-0.31, X_END], [3868, 4995], "#388e3c", 5),
    price_line([-0.31, X_END], [3109, 4018], "#388e3c", 5),
    price_line([-0.31, X_END], [3467.5, 4479], "#388e3c", 3.5, [12, 15]),
    price_line([58.6, X_END], [2892, 3632], "#388e3c", 2),
    price_line([274.4, X_END], [2892, 3272], "#388e3c", 2),
    price_line([468.8, X_END], [2892, 2998], "#388e3c", 5),
    price_line([38.7, X_END], [5998, 4361], "#000000", 3.5),
    price_line([38.7, X_END], [5103, 3712], "#000000", 3.5),
    price_line([167.5, X_END], [5103, 4025], "#000000", 2, [7, 8]),
    price_line([387.4, X_END], [4819.7, 3576], "#2962ff", 3),
    price_line([4.9, X_END], [3202.7, 3202.7], "#ff9800", 4),
    price_line([42.9, X_END], [3581, 3581], "#ff9800", 4),
    price_labels, *tag_layers, tag_name, tag_value, price_legend, top_edge,
).properties(width=W, height=946)

# ---------------------------------------------------------
# VOLUME PANE
# ---------------------------------------------------------
volumes = volume_a + volume_b + volume_c
vol_df = pd.DataFrame({"vol": volumes[:len(candles)]})
vol_df["bar"] = range(len(vol_df))
vol_df["dir"] = candles["dir"].values[:len(vol_df)]

vol_months, vol_lines, vol_edge, vol_labels = pane_grid(volume_ticks, volume_tick_names, y_vol, "vol")
vol_bars = alt.Chart(vol_df).mark_bar(width=4.4, opacity=0.5, clip=True).encode(x=x_enc(), y=y_vol(), color=dir_color)
vol_ma_df = pd.DataFrame(volume_ma, columns=["bar", "vol"])
vol_ma = alt.Chart(vol_ma_df).mark_line(color="#000000", strokeWidth=3, clip=True, interpolate="monotone").encode(
    x=x_enc(), y=y_vol())
vol_legend = overlay_text([("Vol", TEXT, 10, 21), ("343.678K", UP, 40, 21), ("550.616K", TEXT, 110, 21)])

vol_pane = alt.layer(vol_months, vol_lines, vol_edge, vol_bars, vol_ma, vol_labels, vol_legend, top_edge).properties(width=W, height=100)

# ---------------------------------------------------------
# OSCILLATOR PANE
# ---------------------------------------------------------
rsi_months, rsi_lines, rsi_edge, rsi_labels = pane_grid(rsi_ticks, [f"{v:.2f}" for v in rsi_ticks], y_rsi, "rsi")
rsi_zone = alt.Chart(pd.DataFrame({"bar": [-0.31], "bar2": [X_END], "top": [70], "bottom": [30]})).mark_rect(
    color="#787b86", opacity=0.11).encode(x=x_enc(), x2="bar2:Q", y=y_rsi("top"), y2="bottom:Q")

wave_parts = [
    ("g", wave_green_1), ("r", wave_red_1), ("g", wave_green_2), ("r", wave_red_2), ("g", wave_green_3),
    ("r", wave_red_3), ("g", wave_green_4), ("r", wave_red_4),
]
wave = pd.DataFrame(
    [(n, tone) + row for n, (tone, rows) in enumerate(wave_parts) for row in rows],
    columns=["part", "tone", "bar", "up", "low"],
)
wave_color = alt.Color("tone:N", scale=alt.Scale(domain=["g", "r"], range=["#4caf50", "#ff5252"]), legend=None)
wave_band = alt.Chart(wave).mark_area(opacity=0.25, clip=True).encode(
    x=x_enc(), y=y_rsi("up"), y2="low:Q", color=wave_color, detail="part:N")
wave_up = alt.Chart(wave).mark_line(strokeWidth=1.3, clip=True).encode(x=x_enc(), y=y_rsi("up"), color=wave_color, detail="part:N")
wave_low = alt.Chart(wave).mark_line(strokeWidth=1.3, clip=True).encode(x=x_enc(), y=y_rsi("low"), color=wave_color, detail="part:N")

# name, tips, colour, box width, box height, points down
signal_kinds = [
    ("S", sig_s, "#311b92", 15, 21, True),
    ("W", sig_w, "#9c27b0", 18, 20, True),
    ("WW", sig_ww, "#9c27b0", 30, 21, True),
    ("B", sig_b, "#cc6c50", 25, 25, True),
    ("D", sig_d, "#7a3350", 25, 25, True),
    ("F", sig_f, "#e040fb", 25, 25, True),
    ("Bear", sig_bear, "#ff5252", 47, 24, True),
    ("A", sig_a, "#2196f3", 25, 25, False),
    ("C", sig_c, "#4caf50", 25, 25, False),
    ("E", sig_e, "#00e676", 25, 25, False),
    ("G", sig_g, "#00bcd4", 26, 25, False),
    ("H Bull", sig_hbull, "#66bb6a", 55, 25, False),
    ("Bull", sig_bull, "#4caf50", 41, 25, False),
]
signal_layers = []
for name, tips, color, box_w, box_h, down in signal_kinds:
    df = pd.DataFrame(tips, columns=["bar", "rsi"])
    df["label"] = name
    half = box_w / 2 / BAR_PX
    df["left"] = (df["bar"] - half).clip(lower=-0.31)
    df["right"] = df["bar"] + half
    df["tip_bar"] = df["bar"].clip(lower=0.6)
    df["text_bar"] = df["bar"].clip(lower=max(len(name) * 0.65, 1.1) - 0.31)
    sign = -1 if down else 1
    box_off = sign * (5 + box_h / 2)
    signal_layers.append(alt.Chart(df).mark_point(
        shape="triangle-down" if down else "triangle-up", filled=True, size=70, color=color, opacity=1,
        yOffset=sign * 3, clip=True).encode(x=x_enc("tip_bar"), y=y_rsi()))
    signal_layers.append(alt.Chart(df).mark_rect(
        height=box_h, color=color, cornerRadius=2, yOffset=box_off, clip=True).encode(
        x=x_enc("left"), x2="right:Q", y=y_rsi()))
    signal_layers.append(alt.Chart(df).mark_text(
        color="#ffffff", font=FONT, fontSize=14, yOffset=box_off, clip=True).encode(
        x=x_enc("text_bar"), y=y_rsi(), text="label:N"))


def rsi_level(value, width, dash=None):
    kw = {"strokeDash": dash} if dash else {}
    return alt.Chart(pd.DataFrame({"rsi": [value]})).mark_rule(color="#787b86", strokeWidth=width, **kw).encode(y=y_rsi())


rsi_avg_df = pd.DataFrame(rsi_average, columns=["bar", "rsi"])
rsi_avg_line = alt.Chart(rsi_avg_df).mark_line(color="#ab47bc", strokeWidth=3, opacity=0.8, clip=True).encode(x=x_enc(), y=y_rsi())
rsi_df = pd.DataFrame(rsi_line, columns=["bar", "rsi"])
rsi_main = alt.Chart(rsi_df).mark_line(color="#434651", strokeWidth=5, opacity=0.92, interpolate="monotone", clip=True).encode(
    x=x_enc(), y=y_rsi())

NA = "#434651"
rsi_legend = overlay_text([
    ("cRSI + Wave", TEXT, 10, 21), ("n/a", NA, 99, 21), ("n/a", NA, 133, 21), ("n/a", NA, 165, 21), ("44.25", "#ff5252", 199, 21),
    ("44.83", "#ff5252", 243, 21), ("39.66", "#e040fb", 290, 21), ("38.69", NA, 336, 21), ("n/a", NA, 381, 21), ("n/a", NA, 415, 21),
    ("n/a", NA, 448, 21), ("n/a", NA, 481, 21), ("n/a", NA, 514, 21), ("n/a", NA, 547, 21), ("n/a", NA, 580, 21), ("n/a", NA, 613, 21),
    ("n/a", NA, 646, 21), ("26.38", "#4caf50", 678, 21), ("n/a", NA, 724, 21), ("n/a", NA, 758, 21), ("n/a", NA, 792, 21),
])

rsi_pane = alt.layer(
    rsi_months, rsi_lines, rsi_edge, rsi_zone, wave_band, wave_up, wave_low, *signal_layers,
    rsi_level(70, 2.5, [8, 7]), rsi_level(30, 2.5, [8, 7]), rsi_level(50, 3),
    rsi_avg_line, rsi_main, rsi_labels, rsi_legend, top_edge,
).properties(width=W, height=186)

# ---------------------------------------------------------
# HEADER, TIME STRIP, FOOTER
# ---------------------------------------------------------
no_frame = alt.ViewBackground(stroke="transparent")
header = overlay_text([("Dr_Roboto published on TradingView.com, May 23, 2022 12:25 UTC-4", TEXT, 0, 12)]).properties(
    width=W, height=26, view=no_frame)
month_df = pd.DataFrame({"bar": month_ticks, "name": month_names})
month_df["weight"] = ["bold" if n in year_names else "normal" for n in month_names]
time_layers = [
    alt.Chart(month_df[month_df["weight"] == w]).mark_text(
        baseline="middle", font=FONT, fontSize=14.5, fontWeight=w, color=TEXT).encode(
        x=x_enc(), y=alt.value(17), text="name:N")
    for w in ["normal", "bold"]
]
time_strip = alt.layer(
    *time_layers,
    top_edge,
    alt.Chart(pd.DataFrame({"a": [0]})).mark_rule(color=BORDER, strokeWidth=2).encode(
        x=alt.value(0), x2=alt.value(3284), y=alt.value(34)),
    alt.Chart(pd.DataFrame({"bar": [X_END]})).mark_rule(color=BORDER, strokeWidth=1.5).encode(x=x_enc()),
).properties(width=W, height=34, view=no_frame)
footer = alt.layer(
    alt.Chart(pd.DataFrame({"px": [0], "py": [24], "text": ["17"]})).mark_text(
        align="left", baseline="middle", font=FONT, fontSize=21, fontWeight="bold", color=TEXT).encode(
        x=alt.X("px:Q", scale=None, axis=None), y=alt.Y("py:Q", scale=None, axis=None), text="text:N"),
    overlay_text([("TradingView", TEXT, 29, 24)], size=16),
).properties(width=W, height=30, view=no_frame)

chart = alt.vconcat(header, price_pane, vol_pane, rsi_pane, time_strip, footer, spacing=0, bounds="flush").properties(
    padding={"left": 0, "top": 0, "right": 0, "bottom": 0}, background="white",
).configure_view(stroke=BORDER, strokeWidth=1)

chart.save("out.html", embed_options={"renderer": "svg", "actions": False})
